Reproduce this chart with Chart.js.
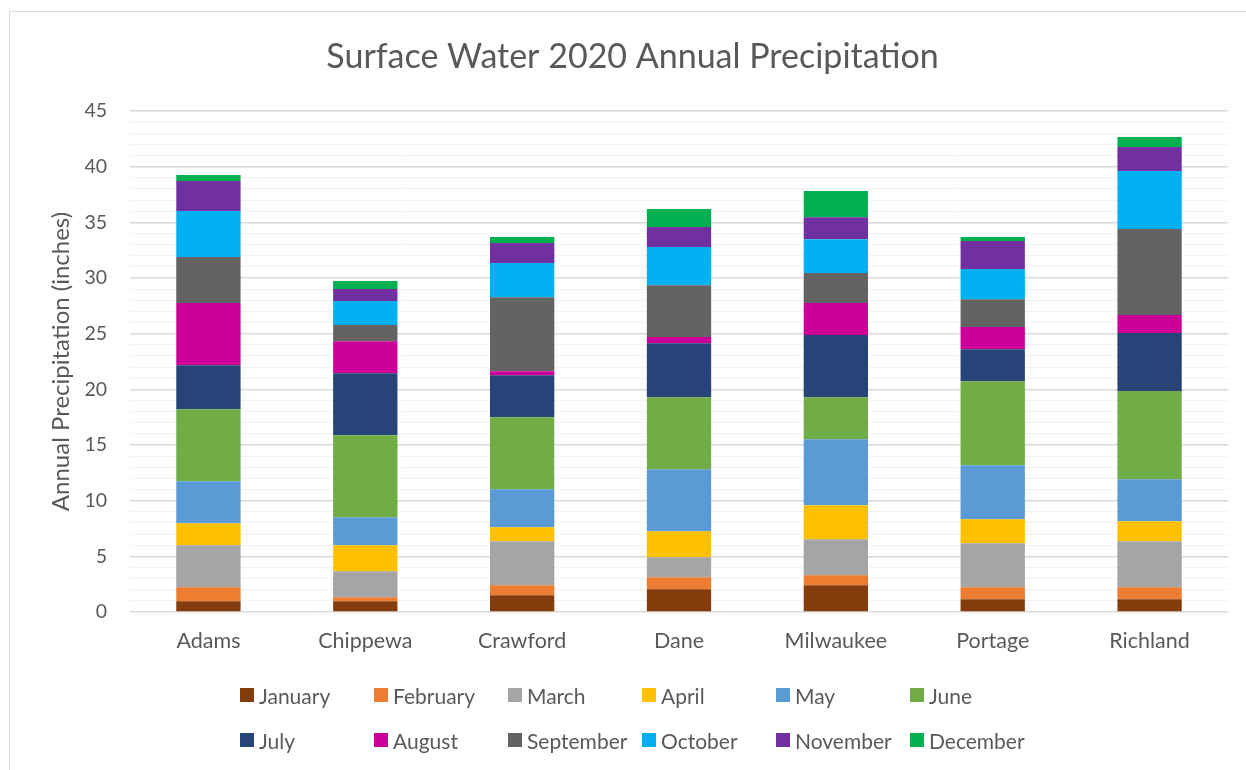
<!DOCTYPE html>
<html lang="en">
<head>
  <meta charset="UTF-8" />
  <title>Surface Water 2020 Annual Precipitation</title>
  <script src="https://cdn.jsdelivr.net/npm/chart.js"></script>
  <style>
    html, body {
      margin: 0;
      padding: 0;
      background: #fff;
      overflow: hidden;
      font-family: 'Lato', sans-serif;
    }

    #frame {
      position: absolute;
      left: 9px;
      top: 11px;
      width: 1400px;
      height: 900px;
      border-left: 1px solid #d9d9d9;
      border-top: 1px solid #d9d9d9;
    }

    #wrap {
      position: absolute;
      left: 0;
      top: 0;
      width: 1246px;
      height: 770px;
    }

    #legend .item {
      position: absolute;
      height: 24px;
      display: flex;
      align-items: center;
      font-size: 21px;
      color: #595959;
      white-space: nowrap;
    }

    #legend .swatch {
      width: 14px;
      height: 14px;
      margin-right: 5px;
    }
  </style>
</head>
<body>
  <div id="frame"></div>
  <div id="wrap"><canvas id="precipChart"></canvas></div>
  <div id="legend"></div>

  <script>
    const counties = ['Adams', 'Chippewa', 'Crawford', 'Dane', 'Milwaukee', 'Portage', 'Richland'];
    const months = ['January', 'February', 'March', 'April', 'May', 'June',
                    'July', 'August', 'September', 'October', 'November', 'December'];

    // inches of precipitation per month, one value per county
    const jan = [0.96, 0.96, 1.50, 2.04, 2.40, 1.14, 1.14];
    const feb = [1.26, 0.36, 0.90, 1.08, 0.90, 1.08, 1.08];
    const mar = [3.77, 2.34, 3.95, 1.79, 3.23, 3.95, 4.13];
    const apr = [1.98, 2.33, 1.26, 2.34, 3.06, 2.16, 1.80];
    const may = [3.78, 2.52, 3.42, 5.57, 5.93, 4.85, 3.78];
    const jun = [6.47, 7.37, 6.47, 6.48, 3.78, 7.55, 7.91];
    const jul = [3.95, 5.57, 3.77, 4.85, 5.57, 2.88, 5.21];
    const aug = [5.58, 2.88, 0.36, 0.54, 2.88, 1.98, 1.62];
    const sep = [4.13, 1.44, 6.65, 4.67, 2.69, 2.51, 7.73];
    const oct = [4.13, 2.16, 3.06, 3.42, 3.04, 2.70, 5.21];
    const nov = [2.70, 1.08, 1.80, 1.80, 1.97, 2.52, 2.16];
    const dec = [0.54, 0.71, 0.54, 1.61, 2.36, 0.36, 0.90];

    const monthData = [jan, feb, mar, apr, may, jun, jul, aug, sep, oct, nov, dec];
    const monthColors = ['#843c0c', '#ed7d31', '#a5a5a5', '#ffc000', '#5b9bd5', '#70ad47',
                         '#264478', '#cc0099', '#636363', '#00b0f0', '#7030a0', '#00b050'];

    const textColor = '#595959';
    const fontFamily = "'Lato', sans-serif";

    const datasets = months.map((m, i) => ({
      label: m,
      data: monthData[i],
      backgroundColor: monthColors[i],
      borderWidth: 0,
      barPercentage: 0.41,
      categoryPercentage: 1.0
    }));

    new Chart(document.getElementById('precipChart'), {
      type: 'bar',
      data: { labels: counties, datasets: datasets },
      options: {
        responsive: true,
        maintainAspectRatio: false,
        animation: false,
        layout: { padding: { left: 37, right: 18, top: 0, bottom: 108 } },
        plugins: {
          legend: { display: false },
          tooltip: { enabled: false },
          title: {
            display: true,
            text: 'Surface Water 2020 Annual Precipitation',
            color: textColor,
            font: { family: fontFamily, size: 34, weight: 'normal', lineHeight: 1.2 },
            padding: { top: 36.6, bottom: 33.6 }
          }
        },
        scales: {
          x: {
            stacked: true,
            grid: { display: false, drawTicks: false },
            border: { display: false },
            ticks: {
              color: textColor,
              font: { family: fontFamily, size: 21.5 },
              padding: 16,
              maxRotation: 0
            },
            afterFit: (s) => { s.height = 50; }
          },
          y: {
            stacked: true,
            min: 0,
            max: 45,
            border: { display: false },
            grid: {
              drawTicks: false,
              color: (ctx) => ctx.tick && ctx.tick.value % 5 === 0 ? '#d9d9d9' : '#f2f2f2',
              lineWidth: (ctx) => ctx.tick && ctx.tick.value % 5 === 0 ? 1.5 : 1
            },
            ticks: {
              stepSize: 1,
              autoSkip: false,
              color: textColor,
              font: { family: fontFamily, size: 19.5 },
              padding: 23,
              callback: (v) => v % 5 === 0 ? v : ''
            },
            title: {
              display: true,
              text: 'Annual Precipitation (inches)',
              color: textColor,
              font: { family: fontFamily, size: 24, lineHeight: 1.2 },
              padding: { top: 10, bottom: 0 }
            },
            afterFit: (s) => { s.width = 93; }
          }
        }
      }
    });

    // legend laid out as a 6 x 2 grid under the plot
    const legend = document.getElementById('legend');
    months.forEach((m, i) => {
      const col = i % 6;
      const row = Math.floor(i / 6);
      const item = document.createElement('div');
      item.className = 'item';
      item.style.left = (240 + col * 134) + 'px';
      item.style.top = (683 + row * 45) + 'px';
      item.innerHTML = `<span class="swatch" style="background:${monthColors[i]}"></span>${m}`;
      legend.appendChild(item);
    });
  </script>
</body>
</html>
